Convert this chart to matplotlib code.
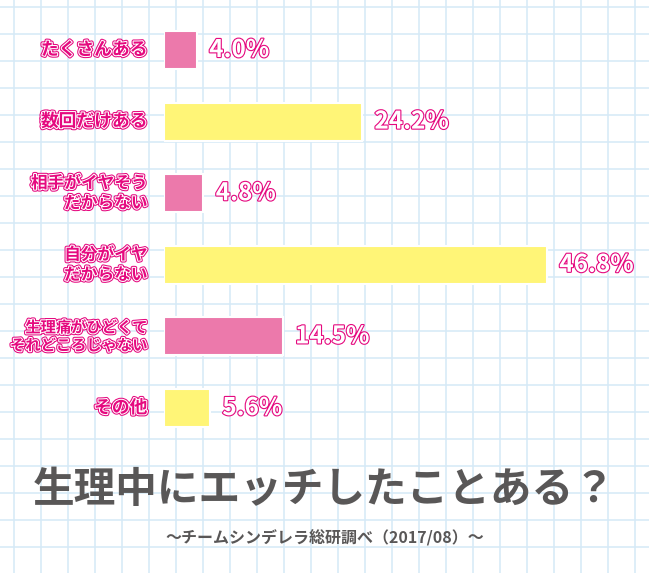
import matplotlib
matplotlib.use("Agg")
import matplotlib.pyplot as plt
import matplotlib.patheffects as pe

plt.rcParams['font.family'] = ['Noto Sans CJK JP', 'DejaVu Sans']

categories = ["たくさんある", "数回だけある", "相手がイヤそう\nだからない", "自分がイヤ\nだからない",
              "生理痛がひどくて\nそれどころじゃない", "その他"]
values = [4.0, 24.2, 4.8, 46.8, 14.5, 5.6]
value_labels = ["4.0%", "24.2%", "4.8%", "46.8%", "14.5%", "5.6%"]
bar_colors = ["#EC79AB", "#FFF577", "#EC79AB", "#FFF577", "#EC79AB", "#FFF577"]
label_sizes = [12.8, 12.8, 12.0, 12.0, 11.0, 12.8]
title = "生理中にエッチしたことある？"
subtitle = "～チームシンデレラ総研調べ（2017/08）～"

W, H = 649, 573
fig = plt.figure(figsize=(W / 100, H / 100), dpi=100)
fig.patch.set_facecolor("white")

# graph-paper background
bg = fig.add_axes([0, 0, 1, 1], zorder=0)
bg.set_xlim(0, W)
bg.set_ylim(H, 0)
bg.axis("off")
gx = 14.3
while gx < W:
    bg.axvline(gx, color="#D5EAF7", lw=1.1)
    gx += 27
gy = 7
while gy < H:
    bg.axhline(gy, color="#D5EAF7", lw=1.1)
    gy += 27

pink = "#E5097F"
gray = "#595757"
bg.text(W / 2, 490, title, ha="center", va="center", fontsize=30, fontweight="bold", color=gray)
bg.text(W / 2, 537, subtitle, ha="center", va="center", fontsize=11.5, fontweight="bold", color=gray)

# bar chart axes
left_px, right_scale = 164, 8.18
xmax = 50
top_px, bottom_px = 14.2, 443.8
ax = fig.add_axes([left_px / W, 1 - bottom_px / H, xmax * right_scale / W, (bottom_px - top_px) / H], zorder=1)
ax.patch.set_alpha(0)
ypos = list(range(len(categories)))
ax.barh(ypos, values, height=0.53, color=bar_colors, edgecolor="white", linewidth=1.5)
ax.set_xlim(0, xmax)
ax.set_ylim(len(categories) - 0.5, -0.5)
for s in ax.spines.values():
    s.set_visible(False)
ax.set_xticks([])
ax.set_yticks([])

cat_fx = [pe.Stroke(linewidth=3.0, foreground=pink), pe.Stroke(linewidth=1.5, foreground="white"), pe.Normal()]
val_fx = [pe.Stroke(linewidth=1.6, foreground=pink), pe.Normal()]
for y, c, v, lab, fs in zip(ypos, categories, values, value_labels, label_sizes):
    ax.annotate(c, xy=(0, y), xytext=(-12, 0), textcoords="offset points", ha="right", va="center",
                fontsize=fs, fontweight="bold", color=pink, linespacing=1.15, path_effects=cat_fx)
    ax.annotate(lab, xy=(v, y), xytext=(9, 0), textcoords="offset points", ha="left", va="center",
                fontsize=17.5, fontweight="bold", color="white", path_effects=val_fx)

fig.savefig("out.png", dpi=100)
